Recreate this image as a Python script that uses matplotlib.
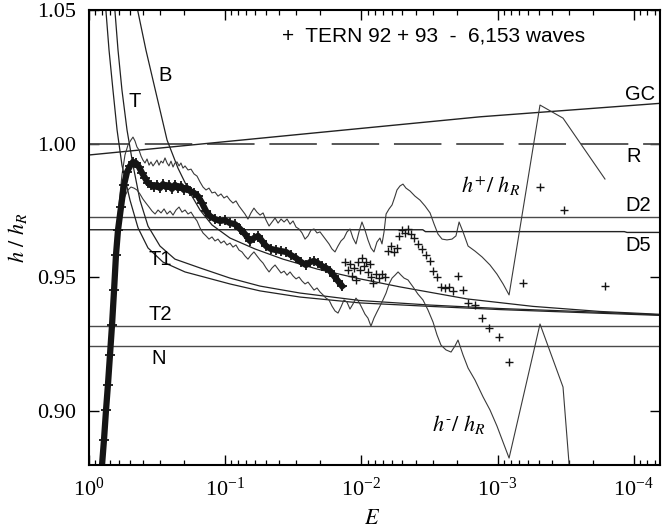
import numpy as np
import matplotlib
matplotlib.use('Agg')
import matplotlib.pyplot as plt
from matplotlib.ticker import LogLocator, FixedLocator, NullFormatter

plt.rcParams['font.family'] = 'Liberation Serif'
plt.rcParams['mathtext.fontset'] = 'stix'

# all x values are given as log10(E); y values are h / h_R

# Goda / breaking criteria curves
gc_x = [0.0, -1.623, -2.871, -4.207]
gc_y = [0.9957, 1.0038, 1.0100, 1.0151]

d5_x = [0.0, -2.45, -2.47, -3.93, -3.95, -4.21]
d5_y = [0.9677, 0.9677, 0.9670, 0.9670, 0.9667, 0.9667]

h_D2 = 0.9724
h_T2 = 0.9318
h_N = 0.9243
h_R = 1.0

ta_x = [-0.121, -0.147, -0.176, -0.206, -0.242, -0.301, -0.360, -0.433, -0.543, -0.705,
        -0.815, -1.035, -1.256, -1.549, -1.990, -2.504, -3.018, -3.605, -4.207]
ta_y = [1.0519, 1.0350, 1.0200, 1.0051, 0.9919, 0.9788, 0.9684, 0.9609, 0.9556, 0.9519,
        0.9504, 0.9474, 0.9448, 0.9425, 0.9403, 0.9390, 0.9378, 0.9367, 0.9356]

tb_x = [-0.187, -0.213, -0.242, -0.279, -0.323, -0.374, -0.433, -0.521, -0.631, -0.815,
        -1.035, -1.256, -1.549, -1.990, -2.504, -3.018, -3.605, -4.207]
tb_y = [1.0519, 1.0350, 1.0200, 1.0051, 0.9919, 0.9788, 0.9691, 0.9616, 0.9567, 0.9534,
        0.9496, 0.9466, 0.9440, 0.9412, 0.9395, 0.9382, 0.9371, 0.9358]

b_x = [-0.349, -0.418, -0.492, -0.573, -0.653, -0.742, -0.815, -0.903, -1.035, -1.219,
       -1.424, -1.674, -1.990, -2.283, -2.775, -3.260, -3.752, -4.207]
b_y = [1.0519, 1.0350, 1.0189, 1.0013, 0.9908, 0.9815, 0.9751, 0.9695, 0.9646, 0.9605,
       0.9567, 0.9530, 0.9493, 0.9463, 0.9418, 0.9390, 0.9371, 0.9360]

# mean of measured waves (dense band)
mean_x = [-0.095, -0.110, -0.125, -0.139, -0.154, -0.169, -0.184, -0.198, -0.213, -0.235,
          -0.257, -0.279, -0.301, -0.323, -0.345, -0.367, -0.389, -0.411, -0.433, -0.455,
          -0.477, -0.499, -0.521, -0.543, -0.565, -0.587, -0.609, -0.631, -0.653, -0.675,
          -0.697, -0.720, -0.742, -0.771, -0.800, -0.830, -0.859, -0.888, -0.925, -0.962,
          -0.998, -1.035, -1.072, -1.109, -1.145, -1.182, -1.211, -1.241, -1.270, -1.300,
          -1.336, -1.373, -1.410, -1.446, -1.483, -1.520, -1.557, -1.593, -1.623, -1.652,
          -1.681, -1.711, -1.740, -1.769, -1.799, -1.828, -1.858]
mean_y = [0.8792, 0.8890, 0.9002, 0.9096, 0.9208, 0.9320, 0.9451, 0.9582, 0.9676, 0.9762,
          0.9845, 0.9893, 0.9916, 0.9931, 0.9927, 0.9912, 0.9890, 0.9871, 0.9852, 0.9845,
          0.9837, 0.9845, 0.9833, 0.9848, 0.9837, 0.9845, 0.9830, 0.9845, 0.9833, 0.9841,
          0.9826, 0.9833, 0.9822, 0.9815, 0.9803, 0.9777, 0.9747, 0.9728, 0.9717, 0.9710,
          0.9713, 0.9702, 0.9698, 0.9680, 0.9661, 0.9635, 0.9646, 0.9654, 0.9635, 0.9616,
          0.9605, 0.9601, 0.9597, 0.9594, 0.9582, 0.9571, 0.9556, 0.9545, 0.9556, 0.9560,
          0.9552, 0.9541, 0.9534, 0.9523, 0.9504, 0.9485, 0.9466]

# sparse points after the dense band
pts_x = [-1.880, -1.902, -1.916, -1.931, -1.946, -1.960, -1.975, -1.990, -2.004, -2.019,
         -2.034, -2.048, -2.063, -2.070, -2.085, -2.107, -2.129, -2.151, -2.173, -2.195,
         -2.217, -2.239, -2.261, -2.276, -2.298, -2.320, -2.342, -2.364, -2.386, -2.415,
         -2.445, -2.474, -2.504, -2.526, -2.555, -2.584, -2.614, -2.643, -2.672, -2.709,
         -2.746, -2.783, -2.834, -2.886, -2.937, -3.010, -3.084, -3.186, -3.311, -3.488,
         -3.788]
pts_y = [0.9556, 0.9526, 0.9549, 0.9504, 0.9534, 0.9489, 0.9556, 0.9526, 0.9571, 0.9541,
         0.9556, 0.9519, 0.9549, 0.9500, 0.9477, 0.9511, 0.9496, 0.9511, 0.9500, 0.9597,
         0.9616, 0.9594, 0.9609, 0.9654, 0.9676, 0.9665, 0.9680, 0.9661, 0.9646, 0.9624,
         0.9605, 0.9582, 0.9560, 0.9523, 0.9500, 0.9463, 0.9459, 0.9463, 0.9448, 0.9504,
         0.9451, 0.9403, 0.9395, 0.9346, 0.9309, 0.9275, 0.9182, 0.9478, 0.9837, 0.9751,
         0.9466]

# upper envelope h+/h_R
hp_x = [-0.198, -0.220, -0.242, -0.264, -0.286, -0.308, -0.323, -0.338, -0.352, -0.367,
        -0.382, -0.396, -0.411, -0.426, -0.441, -0.455, -0.470, -0.485, -0.499, -0.514,
        -0.529, -0.543, -0.558, -0.573, -0.587, -0.602, -0.617, -0.631, -0.646, -0.661,
        -0.675, -0.690, -0.705, -0.727, -0.749, -0.771, -0.793, -0.815, -0.837, -0.859,
        -0.881, -0.903, -0.925, -0.947, -0.969, -0.991, -1.013, -1.035, -1.057, -1.079,
        -1.101, -1.123, -1.145, -1.167, -1.189, -1.211, -1.233, -1.256, -1.278, -1.300,
        -1.322, -1.344, -1.366, -1.388, -1.410, -1.432, -1.454, -1.476, -1.498, -1.520,
        -1.542, -1.564, -1.586, -1.608, -1.630, -1.652, -1.674, -1.696, -1.718, -1.740,
        -1.762, -1.784, -1.806, -1.828, -1.850, -1.872, -1.894, -1.916, -1.938, -1.960,
        -1.982, -2.004, -2.026, -2.048, -2.070, -2.092, -2.114, -2.136, -2.151, -2.166,
        -2.181, -2.203, -2.225, -2.247, -2.261, -2.283, -2.305, -2.327, -2.357, -2.393,
        -2.430, -2.467, -2.504, -2.533, -2.562, -2.592, -2.628, -2.665, -2.694, -2.717,
        -2.746, -2.783, -2.834, -2.886, -2.944, -2.995, -3.040, -3.084, -3.311, -3.480,
        -3.788]
hp_y = [0.9638, 0.9770, 0.9882, 0.9957, 0.9994, 1.0013, 1.0024, 1.0009, 0.9987, 0.9976,
        0.9953, 0.9938, 0.9927, 0.9942, 0.9919, 0.9931, 0.9916, 0.9927, 0.9938, 0.9919,
        0.9934, 0.9927, 0.9946, 0.9927, 0.9916, 0.9934, 0.9912, 0.9927, 0.9931, 0.9916,
        0.9927, 0.9908, 0.9916, 0.9901, 0.9904, 0.9886, 0.9878, 0.9856, 0.9837, 0.9826,
        0.9833, 0.9815, 0.9818, 0.9803, 0.9811, 0.9796, 0.9803, 0.9788, 0.9777, 0.9785,
        0.9766, 0.9751, 0.9736, 0.9717, 0.9740, 0.9758, 0.9743, 0.9732, 0.9740, 0.9713,
        0.9691, 0.9706, 0.9721, 0.9702, 0.9717, 0.9706, 0.9717, 0.9698, 0.9710, 0.9687,
        0.9680, 0.9665, 0.9642, 0.9654, 0.9676, 0.9680, 0.9665, 0.9669, 0.9654, 0.9639,
        0.9624, 0.9605, 0.9594, 0.9616, 0.9635, 0.9646, 0.9669, 0.9680, 0.9646, 0.9624,
        0.9669, 0.9706, 0.9676, 0.9639, 0.9609, 0.9594, 0.9631, 0.9646, 0.9624, 0.9669,
        0.9736, 0.9755, 0.9770, 0.9803, 0.9826, 0.9841, 0.9848, 0.9833, 0.9822, 0.9803,
        0.9788, 0.9766, 0.9740, 0.9699, 0.9661, 0.9642, 0.9639, 0.9642, 0.9654, 0.9706,
        0.9669, 0.9616, 0.9597, 0.9575, 0.9545, 0.9511, 0.9474, 0.9433, 1.0144, 1.0095,
        0.9867]

# lower envelope h-/h_R
hm_x = [-0.220, -0.242, -0.264, -0.286, -0.308, -0.330, -0.352, -0.374, -0.396, -0.418,
        -0.441, -0.463, -0.485, -0.507, -0.529, -0.551, -0.573, -0.595, -0.617, -0.639,
        -0.661, -0.683, -0.705, -0.727, -0.749, -0.771, -0.793, -0.815, -0.837, -0.859,
        -0.881, -0.903, -0.925, -0.947, -0.969, -0.991, -1.013, -1.035, -1.057, -1.079,
        -1.101, -1.123, -1.145, -1.167, -1.189, -1.211, -1.233, -1.256, -1.278, -1.300,
        -1.322, -1.344, -1.366, -1.388, -1.410, -1.432, -1.454, -1.476, -1.498, -1.520,
        -1.542, -1.564, -1.586, -1.608, -1.630, -1.652, -1.674, -1.696, -1.718, -1.740,
        -1.762, -1.784, -1.806, -1.828, -1.850, -1.872, -1.894, -1.916, -1.938, -1.960,
        -1.982, -2.004, -2.026, -2.048, -2.070, -2.092, -2.114, -2.136, -2.158, -2.181,
        -2.203, -2.225, -2.247, -2.269, -2.291, -2.313, -2.342, -2.379, -2.415, -2.452,
        -2.489, -2.526, -2.555, -2.584, -2.621, -2.658, -2.687, -2.709, -2.746, -2.783,
        -2.834, -2.893, -2.944, -2.995, -3.084, -3.311, -3.480, -3.528]
hm_y = [0.9706, 0.9770, 0.9803, 0.9826, 0.9837, 0.9833, 0.9826, 0.9811, 0.9792, 0.9777,
        0.9762, 0.9747, 0.9736, 0.9751, 0.9740, 0.9755, 0.9736, 0.9747, 0.9732, 0.9751,
        0.9762, 0.9743, 0.9751, 0.9736, 0.9743, 0.9725, 0.9710, 0.9684, 0.9665, 0.9654,
        0.9642, 0.9650, 0.9635, 0.9642, 0.9627, 0.9635, 0.9620, 0.9627, 0.9612, 0.9620,
        0.9601, 0.9594, 0.9579, 0.9567, 0.9582, 0.9594, 0.9579, 0.9564, 0.9552, 0.9534,
        0.9519, 0.9534, 0.9545, 0.9530, 0.9515, 0.9522, 0.9507, 0.9519, 0.9504, 0.9493,
        0.9500, 0.9485, 0.9474, 0.9481, 0.9466, 0.9451, 0.9459, 0.9444, 0.9433, 0.9421,
        0.9414, 0.9391, 0.9373, 0.9365, 0.9388, 0.9414, 0.9406, 0.9380, 0.9399, 0.9421,
        0.9406, 0.9384, 0.9361, 0.9346, 0.9316, 0.9346, 0.9369, 0.9391, 0.9414, 0.9440,
        0.9474, 0.9496, 0.9507, 0.9519, 0.9507, 0.9496, 0.9489, 0.9463, 0.9436, 0.9414,
        0.9376, 0.9331, 0.9283, 0.9245, 0.9227, 0.9219, 0.9242, 0.9264, 0.9208, 0.9159,
        0.9114, 0.9051, 0.9002, 0.8942, 0.8822, 0.9324, 0.9088, 0.8777]


def E(lx):
    return 10.0 ** np.array(lx)


fig = plt.figure(figsize=(6.62, 5.28), dpi=100)
ax = fig.add_axes([89 / 662, 1 - 465 / 528, 571 / 662, 455 / 528])
ax.set_xscale('log')

line_gray = '#4a4a4a'
ax.axhline(h_R, color=line_gray, lw=1.3, linestyle=(3.6, (26.3, 8.2)))
ax.axhline(h_D2, color=line_gray, lw=1.0)
ax.axhline(h_T2, color=line_gray, lw=1.0)
ax.axhline(h_N, color=line_gray, lw=1.0)
ax.plot(E(d5_x), d5_y, color='#222', lw=1.0)
ax.plot(E(gc_x), gc_y, color='#222', lw=1.0)

ax.plot(E(ta_x), ta_y, color='#222', lw=0.9)
ax.plot(E(tb_x), tb_y, color='#222', lw=0.9)
ax.plot(E(b_x), b_y, color='#222', lw=0.9)

ax.plot(E(hp_x), hp_y, color='#3a3a3a', lw=0.8)
ax.plot(E(hm_x), hm_y, color='#3a3a3a', lw=0.8)

ax.plot(E(mean_x), mean_y, color='#151515', lw=4.5, marker='+', ms=7, mew=1.3)
ax.plot(E(pts_x), pts_y, ls='none', color='#151515', marker='+', ms=6, mew=1.0)

ax.set_xlim(1.0, 10 ** -4.192)
ax.set_ylim(0.8796, 1.05)

ax.xaxis.set_major_locator(LogLocator(base=10, numticks=10))
ax.xaxis.set_minor_locator(LogLocator(base=10, subs=np.arange(2, 10), numticks=20))
ax.xaxis.set_minor_formatter(NullFormatter())
ax.yaxis.set_major_locator(FixedLocator([0.90, 0.95, 1.00, 1.05]))
ax.set_yticklabels(['0.90', '0.95', '1.00', '1.05'])

ax.tick_params(which='both', direction='in', top=True, right=True, labelsize=16)
ax.tick_params(which='major', length=7, width=1.0, pad=9)
ax.tick_params(which='minor', length=3.5, width=0.9)
for s in ax.spines.values():
    s.set_linewidth(1.5)

ax.set_ylabel(r'$h\ /\ h_R$', fontsize=16)
ax.yaxis.set_label_coords(-0.105, 0.5)
ax.set_xlabel(r'$E$', fontsize=16)
ax.xaxis.set_label_coords(0.495, -0.10)

sans = 'Liberation Sans'
ax.text(10 ** -2.526, 1.0403, '+  TERN 92 + 93  -  6,153 waves', family=sans,
        fontsize=15, ha='center', va='center')
labels = [('B', -0.556, 1.0254), ('T', -0.338, 1.0159), ('GC', -4.045, 1.0185),
          ('R', -3.997, 0.9951), ('D2', -4.029, 0.9768), ('D5', -4.029, 0.9617),
          ('T1', -0.525, 0.9566), ('T2', -0.525, 0.9358), ('N', -0.510, 0.9194)]
for txt, lx, hy in labels:
    ax.text(10 ** lx, hy, txt, family=sans, fontsize=14.5, ha='center', va='center')

ax.text(10 ** -2.951, 0.9841, r'$h^{+}/\ h_R$', fontsize=16, ha='center', va='center')
ax.text(10 ** -2.717, 0.8946, r'$h^{\text{-}}/\ h_R$', fontsize=16, ha='center', va='center')

fig.savefig('out.png', dpi=100)
